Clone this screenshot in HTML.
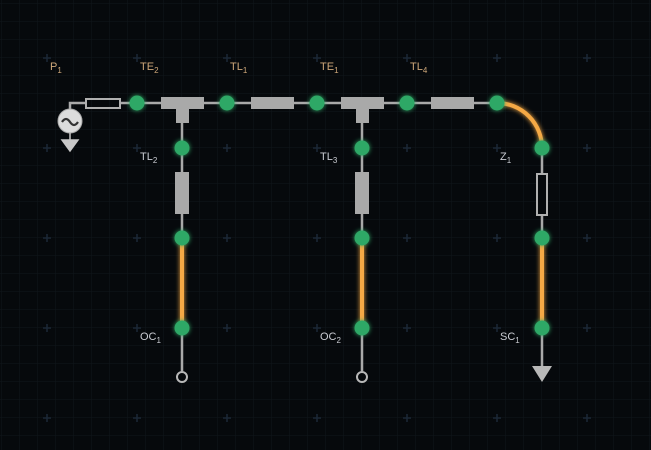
<!DOCTYPE html>
<html><head><meta charset="utf-8"><style>
html,body{margin:0;padding:0;background:#06090c;}
svg{display:block;font-family:"Liberation Sans",sans-serif;}
.lbl{font-size:11px;fill:#cfa87a;}
.lbl2{font-size:11px;fill:#c9ccd2;}
.w{stroke:#a9a9a9;stroke-width:2.5;fill:none;}
</style></head><body>
<svg width="651" height="450" viewBox="0 0 651 450">
<defs>
<pattern id="fg" width="18" height="18" patternUnits="userSpaceOnUse" x="2" y="4">
<path d="M18 0V18M0 18H18" stroke="#10161b" stroke-width="1"/>
</pattern>
<filter id="glow" x="-50%" y="-50%" width="200%" height="200%"><feGaussianBlur stdDeviation="2.5" result="b"/><feMerge><feMergeNode in="b"/><feMergeNode in="SourceGraphic"/></feMerge></filter>
</defs>
<rect width="651" height="450" fill="#06090c"/>
<rect width="651" height="450" fill="url(#fg)"/>
<g id="crosses" stroke="#1c2836" stroke-width="1.5"></g>

<!-- wires -->
<g>
<path class="w" d="M70 109V103H85M120 103H161M204 103H251M294 103H341M384 103H431M474 103H497"/>
<path class="w" d="M182 123V172M182 214V238M182 328V371"/>
<path class="w" d="M362 123V172M362 214V238M362 328V371"/>
<path class="w" d="M542 148V174M542 214V238M542 328V366"/>
</g>
<!-- orange lines -->
<g filter="url(#glow)" stroke="#f5a945" stroke-width="4" fill="none">
<path d="M497 103A45 45 0 0 1 542 148"/>
<path d="M182 238V328"/>
<path d="M362 238V328"/>
<path d="M542 238V328"/>
</g>
<!-- components -->
<rect x="86" y="99" width="34" height="9" fill="none" stroke="#b0b0b0" stroke-width="2"/>
<circle cx="70" cy="121" r="12" fill="#dcdcdc" stroke="#aaa"/>
<path d="M62 122q4-6 8 0t8 0" stroke="#333" stroke-width="2.2" fill="none"/>
<path d="M70 133V140M62 140H78L70 151Z" fill="#c8c8c8" stroke="#c8c8c8" stroke-width="1.5"/>
<path d="M161 97H204V109H189V123H176V109H161Z" fill="#a9a9a9"/>
<path d="M341 97H384V109H369V123H356V109H341Z" fill="#a9a9a9"/>
<rect x="251" y="97" width="43" height="12" fill="#a9a9a9"/>
<rect x="431" y="97" width="43" height="12" fill="#a9a9a9"/>
<rect x="175" y="172" width="14" height="42" fill="#a9a9a9"/>
<rect x="355" y="172" width="14" height="42" fill="#a9a9a9"/>
<rect x="537" y="174" width="10" height="41" fill="#06090c" stroke="#b0b0b0" stroke-width="2"/>
<circle cx="182" cy="377" r="5" fill="#06090c" stroke="#b8b8b8" stroke-width="2"/>
<circle cx="362" cy="377" r="5" fill="#06090c" stroke="#b8b8b8" stroke-width="2"/>
<path d="M532 366H552L542 382Z" fill="#b8b8b8"/>
<g id="nodes"></g>
<!-- labels -->
<text class="lbl" x="50" y="70">P<tspan font-size="8" dy="3">1</tspan></text>
<text class="lbl" x="140" y="70">TE<tspan font-size="8" dy="3">2</tspan></text>
<text class="lbl" x="230" y="70">TL<tspan font-size="8" dy="3">1</tspan></text>
<text class="lbl" x="320" y="70">TE<tspan font-size="8" dy="3">1</tspan></text>
<text class="lbl" x="410" y="70">TL<tspan font-size="8" dy="3">4</tspan></text>
<text class="lbl2" x="140" y="160">TL<tspan font-size="8" dy="3">2</tspan></text>
<text class="lbl2" x="320" y="160">TL<tspan font-size="8" dy="3">3</tspan></text>
<text class="lbl2" x="500" y="160">Z<tspan font-size="8" dy="3">1</tspan></text>
<text class="lbl2" x="140" y="340">OC<tspan font-size="8" dy="3">1</tspan></text>
<text class="lbl2" x="320" y="340">OC<tspan font-size="8" dy="3">2</tspan></text>
<text class="lbl2" x="500" y="340">SC<tspan font-size="8" dy="3">1</tspan></text>
</svg>
<script>
const NS="http://www.w3.org/2000/svg";
const crossCols=[47,137,227,317,407,497,587];
const crossRows=[58,148,238,328,418];
const cg=document.getElementById('crosses');
crossCols.forEach(x=>crossRows.forEach(y=>{
  const p=document.createElementNS(NS,'path');
  p.setAttribute('d',`M${x-4} ${y}H${x+4}M${x} ${y-4}V${y+4}`);
  
  
  cg.appendChild(p);
}));
const nodeX=[137,227,317,407,497,182,182,182,362,362,362,542,542,542];
const nodeY=[103,103,103,103,103,148,238,328,148,238,328,148,238,328];
const ng=document.getElementById('nodes');
nodeX.forEach((x,i)=>{
  const c=document.createElementNS(NS,'circle');
  c.setAttribute('cx',x);c.setAttribute('cy',nodeY[i]);c.setAttribute('r',7.5);
  c.setAttribute('fill','#2fa866');
  c.setAttribute('filter','url(#glow)');
  
  
  ng.appendChild(c);
});
</script>
</body></html>
